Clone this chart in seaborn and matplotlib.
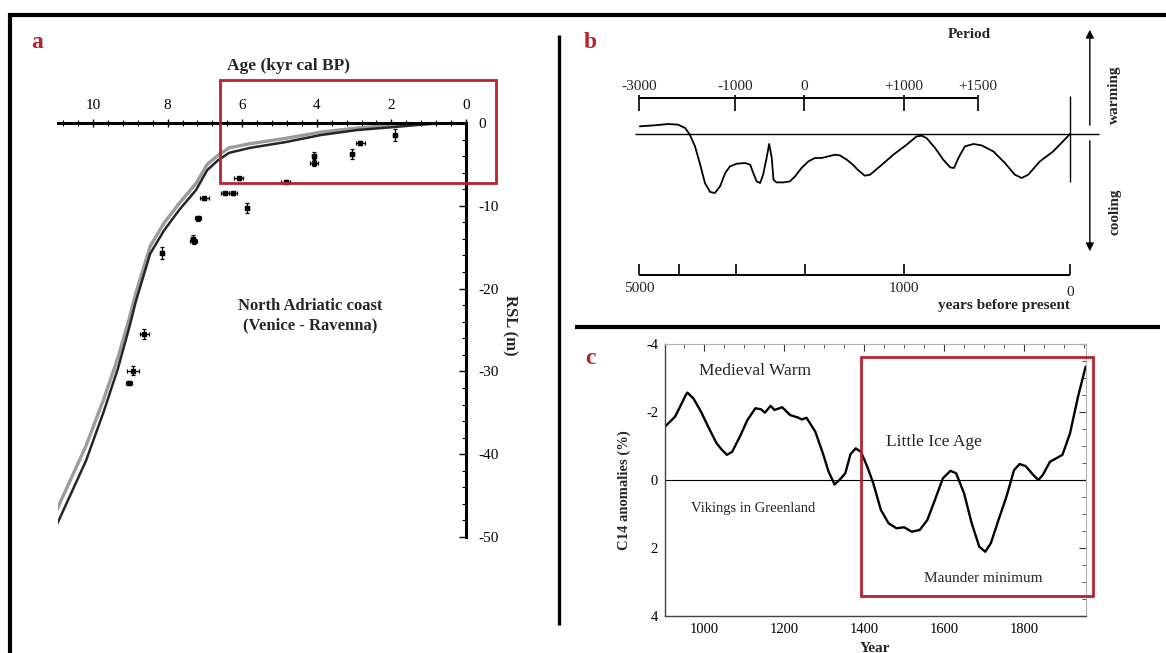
import numpy as np
import pandas as pd
import matplotlib
matplotlib.use("Agg")
import matplotlib.pyplot as plt
import seaborn as sns
from matplotlib.ticker import MultipleLocator
from matplotlib.patches import Rectangle

# ---------------- Panel a: RSL curve, North Adriatic ----------------
age_dark = [10.95, 10.91, 10.19, 9.71, 9.33, 9.03, 8.85, 8.47, 8.10, 7.69, 7.24, 6.94,
            6.65, 6.35, 5.79, 4.83, 3.89, 2.92, 1.96, 0.99, 0.0]
rsl_dark = [-48.3, -47.9, -40.8, -34.8, -29.6, -24.7, -21.5, -15.8, -13.0, -10.5, -8.1, -5.7,
            -4.5, -3.6, -3.0, -2.3, -1.45, -0.85, -0.5, -0.12, 0.0]
age_grey = [10.95, 10.91, 10.19, 9.71, 9.33, 9.03, 8.85, 8.47, 8.10, 7.69, 7.24, 6.94,
            6.65, 6.35, 5.79, 4.83, 3.89, 2.92, 1.96, 0.99, 0.0]
rsl_grey = [-46.6, -46.1, -39.0, -33.3, -28.3, -23.6, -20.5, -14.9, -12.1, -9.7, -7.3, -5.0,
            -3.9, -3.0, -2.5, -1.85, -1.1, -0.6, -0.3, -0.05, 0.0]
pt_age = [1.90, 2.84, 3.06, 4.08, 4.08, 6.09, 4.83, 6.46, 6.25, 7.02, 5.87, 7.18,
          7.32, 7.30, 8.15, 8.63, 8.93, 9.04]
pt_rsl = [-1.45, -2.4, -3.75, -4.0, -4.8, -6.7, -7.1, -8.5, -8.5, -9.1, -10.3, -11.5,
          -14.0, -14.3, -15.7, -25.5, -29.9, -31.4]
pt_age_err = [0.05, 0.12, 0.06, 0.05, 0.10, 0.12, 0.12, 0.10, 0.10, 0.12, 0.05, 0.08,
              0.05, 0.10, 0.05, 0.12, 0.15, 0.08]
pt_rsl_err = [0.7, 0.2, 0.6, 0.5, 0.4, 0.2, 0.2, 0.2, 0.2, 0.2, 0.6, 0.3,
              0.5, 0.3, 0.7, 0.6, 0.5, 0.3]
a_xticks = [10, 8, 6, 4, 2, 0]
a_yticks = [0, -10, -20, -30, -40, -50]

# ---------------- Panel b: schematic climate curve ----------------
b_pos = [0.2, 3.7, 6.8, 9.1, 10.7, 11.8, 13.0, 14.2, 15.3, 16.5, 17.6, 18.8, 20.0, 21.1,
         22.7, 24.6, 25.8, 26.5, 27.3, 28.1, 28.8, 29.6, 30.2, 30.8, 31.2, 31.9, 33.5,
         35.0, 36.2, 37.7, 39.3, 40.8, 42.4, 43.9, 45.5, 46.6, 48.2, 49.7, 50.8, 52.4,
         53.6, 55.9, 59.0, 62.1, 64.4, 65.6, 66.7, 68.7, 70.6, 72.2, 73.1, 74.1, 75.6,
         77.6, 79.5, 82.2, 84.9, 87.2, 88.8, 90.3, 93.0, 96.1, 100.0]
b_val = [0.77, 0.87, 1.0, 0.93, 0.6, -0.07, -1.24, -3.07, -4.9, -5.8, -5.9, -5.24, -3.9,
         -3.24, -2.97, -2.9, -3.07, -3.9, -4.74, -4.9, -4.07, -2.4, -1.0, -2.4, -4.57,
         -4.84, -4.84, -4.74, -4.24, -3.4, -2.74, -2.4, -2.4, -2.24, -2.07, -2.14, -2.57,
         -3.1, -3.6, -4.17, -4.07, -3.24, -2.07, -1.07, -0.24, -0.17, -0.4, -1.4, -2.57,
         -3.34, -3.4, -2.4, -1.24, -1.0, -1.14, -1.74, -2.9, -4.07, -4.4, -4.07, -2.74,
         -1.74, 0.0]
b_top_pos = [0, 22.3, 38.3, 61.5, 78.7]
b_top_lab = ["-3000", "-1000", "0", "+1000", "+1500"]
b_bot_pos = [0, 9.3, 22.5, 38.5, 61.5, 100]
b_bot_lab = ["5000", "", "", "", "1000", "0"]

# ---------------- Panel c: C14 anomalies ----------------
c_year = [902, 915, 927, 939, 954, 958, 973, 992, 1012, 1031, 1045, 1057, 1070, 1089,
          1108, 1128, 1142, 1152, 1166, 1176, 1195, 1215, 1234, 1244, 1256, 1278, 1297,
          1311, 1326, 1340, 1353, 1366, 1379, 1392, 1408, 1423, 1442, 1461, 1481, 1500,
          1519, 1539, 1558, 1577, 1597, 1616, 1630, 1650, 1669, 1688, 1703, 1717, 1736,
          1756, 1775, 1789, 1804, 1823, 1836, 1847, 1865, 1881, 1896, 1915, 1935, 1954]
c_anom = [-1.57, -1.72, -1.86, -2.14, -2.50, -2.57, -2.40, -2.01, -1.52, -1.08, -0.88,
          -0.74, -0.83, -1.27, -1.76, -2.11, -2.08, -1.98, -2.18, -2.06, -2.14, -1.91,
          -1.84, -1.78, -1.83, -1.42, -0.78, -0.25, 0.13, -0.02, -0.20, -0.76, -0.93,
          -0.83, -0.39, 0.10, 0.88, 1.27, 1.42, 1.39, 1.52, 1.47, 1.18, 0.59, -0.05,
          -0.27, -0.20, 0.39, 1.27, 1.96, 2.11, 1.86, 1.18, 0.49, -0.29, -0.47, -0.41,
          -0.15, 0.0, -0.15, -0.54, -0.64, -0.74, -1.37, -2.45, -3.33]
c_xticks = [1000, 1200, 1400, 1600, 1800]
c_yticks = [-4, -2, 0, 2, 4]

RED = "#b8222e"

sns.set_theme(style="white")
plt.rcParams["font.family"] = ["Liberation Serif", "DejaVu Serif"]
plt.rcParams["axes.unicode_minus"] = False

W, H = 1166, 653
fig = plt.figure(figsize=(W / 100, H / 100), dpi=100)
fig.patch.set_facecolor("white")


def rect(x0, y0, x1, y1):
    return [x0 / W, 1 - y1 / H, (x1 - x0) / W, (y1 - y0) / H]


# overlay for frame lines and panel letters (pixel coordinates)
ov = fig.add_axes([0, 0, 1, 1])
ov.set_xlim(0, W)
ov.set_ylim(H, 0)
ov.axis("off")
ov.plot([8, W], [15, 15], color="black", lw=3.0, solid_capstyle="butt")
ov.plot([10, 10], [13, H], color="black", lw=3.0, solid_capstyle="butt")
ov.plot([559, 559], [35, 625], color="black", lw=2.4, solid_capstyle="butt")
ov.plot([575, 1160], [327, 327], color="black", lw=3.0, solid_capstyle="butt")
for lx, ly, lt in [(37, 42, "a"), (590, 43, "b"), (590, 358, "c")]:
    ov.text(lx, ly, lt, color=RED, fontsize=17, fontweight="bold", ha="center", va="center")

# ---------------- Panel a ----------------
axa = fig.add_axes(rect(58, 123, 466, 537))
axa.set_facecolor("none")
sns.lineplot(x=age_grey, y=rsl_grey, sort=False, estimator=None, color="#9c9c9c", lw=2.4, ax=axa)
sns.lineplot(x=age_dark, y=rsl_dark, sort=False, estimator=None, color="#262626", lw=1.8, ax=axa)
axa.errorbar(pt_age, pt_rsl, xerr=pt_age_err, yerr=pt_rsl_err, fmt="s", ms=3, color="black",
             elinewidth=0.9, capsize=1.6, capthick=0.9, clip_on=False)
axa.set_xlim(10.94, 0)
axa.set_ylim(-50, 0)
for s in ["left", "bottom"]:
    axa.spines[s].set_visible(False)
for s in ["top", "right"]:
    axa.spines[s].set_visible(True)
    axa.spines[s].set_linewidth(2.2)
    axa.spines[s].set_color("black")
axa.xaxis.tick_top()
axa.yaxis.tick_right()
axa.set_xticks(a_xticks)
axa.set_xticklabels([str(v) for v in a_xticks])
axa.xaxis.set_minor_locator(MultipleLocator(0.4))
axa.set_yticks(a_yticks)
axa.set_yticklabels([str(v) for v in a_yticks])
axa.yaxis.set_minor_locator(MultipleLocator(2))
axa.tick_params(axis="x", which="major", direction="inout", length=6, width=1.0, pad=5,
                labelsize=11, colors="black")
axa.tick_params(axis="x", which="minor", direction="inout", length=4, width=0.8, colors="black")
axa.tick_params(axis="y", which="major", direction="in", length=5, width=1.0, pad=9,
                labelsize=11, colors="black")
axa.tick_params(axis="y", which="minor", direction="in", length=3, width=0.8, colors="black")
axa.set_xlabel("")
axa.set_ylabel("")
axa.grid(False)
axa.add_patch(Rectangle((-0.8, -7.25), 7.4, 12.45, fill=False, edgecolor=RED, lw=2.0,
                        clip_on=False, zorder=5))
axa.text(4.75, 6.9, "Age (kyr cal BP)", fontsize=12.5, fontweight="bold", ha="center",
         va="center", clip_on=False)
axa.text(4.18, -23.3, "North Adriatic coast\n(Venice - Ravenna)", fontsize=12, fontweight="bold",
         ha="center", va="center", multialignment="center", linespacing=1.3)
axa.text(-1.18, -24.4, "RSL (m)", fontsize=12, fontweight="bold", rotation=270,
         ha="center", va="center", clip_on=False)

# ---------------- Panel b ----------------
axb = fig.add_axes(rect(580, 20, 1160, 320))
axb.set_facecolor("none")
axb.axis("off")
axb.set_xlim(-13.69, 120.88)
axb.set_ylim(-18.6, 11.4)
sns.lineplot(x=b_pos, y=b_val, sort=False, estimator=None, color="black", lw=1.3, ax=axb)
axb.hlines(0, -0.9, 106.7, color="black", lw=1.0)
axb.vlines(100, -4.8, 3.8, color="black", lw=1.0)
# top (period) axis
axb.hlines(3.6, b_top_pos[0], b_top_pos[-1], color="black", lw=1.4)
axb.vlines(b_top_pos, 2.3, 3.9, color="black", lw=1.2)
for p, lab in zip(b_top_pos, b_top_lab):
    axb.text(p, 4.8, lab, fontsize=11, ha="center", va="center")
# bottom (years before present) axis
axb.hlines(-14.1, b_bot_pos[0], b_bot_pos[-1], color="black", lw=1.4)
axb.vlines(b_bot_pos, -14.1, -13.0, color="black", lw=1.2)
for p, lab in zip(b_bot_pos, b_bot_lab):
    if lab:
        dy = -15.9 if lab == "0" else -15.5
        axb.text(p, dy, lab, fontsize=11, ha="center", va="center")
axb.text(100, -17.1, "years before present", fontsize=11, fontweight="bold", ha="right",
         va="center")
axb.text(76.6, 9.9, "Period", fontsize=11, fontweight="bold", ha="center", va="center")
axb.annotate("", xy=(104.6, 10.7), xytext=(104.6, 0.6),
             arrowprops=dict(arrowstyle="-|>", color="black", lw=1.0, mutation_scale=12))
axb.annotate("", xy=(104.6, -12.0), xytext=(104.6, -0.4),
             arrowprops=dict(arrowstyle="-|>", color="black", lw=1.0, mutation_scale=12))
axb.text(110.4, 3.9, "warming", fontsize=11, fontweight="bold", rotation=90, ha="center",
         va="center")
axb.text(110.4, -7.8, "cooling", fontsize=11, fontweight="bold", rotation=90, ha="center",
         va="center")

# ---------------- Panel c ----------------
axc = fig.add_axes(rect(665, 344, 1086, 616))
axc.set_facecolor("white")
sns.lineplot(x=c_year, y=c_anom, sort=False, estimator=None, color="black", lw=1.7, ax=axc)
axc.axhline(0, color="black", lw=0.8)
axc.set_xlim(902, 1955)
axc.set_ylim(4, -4)
for s in ["left", "bottom"]:
    axc.spines[s].set_visible(True)
    axc.spines[s].set_color("#444444")
    axc.spines[s].set_linewidth(1.0)
for s in ["top", "right"]:
    axc.spines[s].set_visible(True)
    axc.spines[s].set_color("#b0b0b0")
    axc.spines[s].set_linewidth(0.8)
axc.set_xticks(c_xticks)
axc.set_xticklabels([str(v) for v in c_xticks])
axc.xaxis.set_minor_locator(MultipleLocator(50))
axc.set_yticks(c_yticks)
axc.set_yticklabels([str(v) for v in c_yticks])
axc.yaxis.set_minor_locator(MultipleLocator(0.5))
axc.tick_params(axis="both", which="major", direction="in", length=5, width=0.8,
                colors="#333333", labelcolor="black", labelsize=10.5, top=True, right=True)
axc.tick_params(axis="both", which="minor", direction="in", length=3, width=0.7,
                colors="#555555", top=True, right=True)
axc.tick_params(axis="x", which="major", pad=5)
axc.tick_params(axis="y", which="major", pad=5)
axc.set_xlabel("")
axc.set_ylabel("")
axc.grid(False)
axc.text(-0.097, 0.463, "C14 anomalies (%)", transform=axc.transAxes, fontsize=10.5,
         fontweight="bold", rotation=90, ha="center", va="center")
axc.text(0.499, -0.118, "Year", transform=axc.transAxes, fontsize=11, fontweight="bold",
         ha="center", va="center")
axc.text(1127, -3.2, "Medieval Warm", fontsize=12.5, ha="center", va="center")
axc.text(1575, -1.12, "Little Ice Age", fontsize=12.5, ha="center", va="center")
axc.text(1123, 0.83, "Vikings in Greenland", fontsize=10.5, ha="center", va="center")
axc.text(1698, 2.9, "Maunder minimum", fontsize=11, ha="center", va="center")
axc.add_patch(Rectangle((1392, -3.62), 581, 7.03, fill=False, edgecolor=RED, lw=2.0,
                        clip_on=False, zorder=5))

fig.savefig("out.png", dpi=100)
